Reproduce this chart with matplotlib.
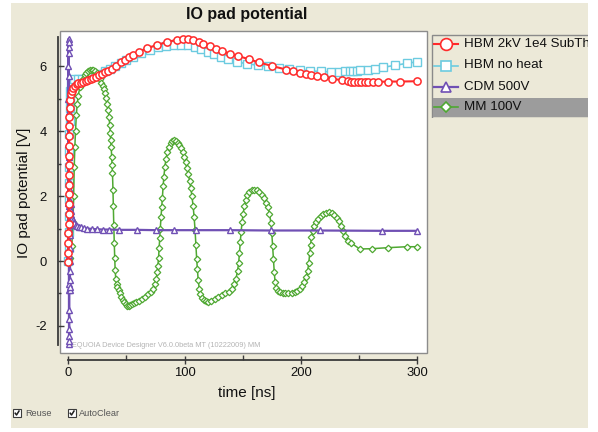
import matplotlib
matplotlib.use('Agg')
import matplotlib.pyplot as plt
from matplotlib.patches import Rectangle

plt.rcParams['font.family'] = ['Liberation Sans', 'DejaVu Sans']
plt.rcParams['axes.unicode_minus'] = False

# ---------------- data ----------------
title = "IO pad potential"
x_label = "time [ns]"
y_label = "IO pad potential [V]"
series_labels = ["HBM 2kV 1e4 SubTh", "HBM no heat", "CDM 500V", "MM 100V"]
x_ticks = [0, 100, 200, 300]
x_minor = [50, 150, 250]
y_ticks = [-2, 0, 2, 4, 6]
y_minor = [-1, 1, 3, 5]
watermark = "SEQUOIA Device Designer V6.0.0beta MT (10222009) MM"

hbm_t = [0, 0.05, 0.1, 0.15, 0.2, 0.25, 0.3, 0.35, 0.4, 0.45, 0.5, 0.55, 0.6, 0.7, 0.8, 0.9,
         1.1, 1.4, 2.0, 2.9, 4.2, 5.8, 7.2, 8.6, 10.5, 13, 15, 17, 19.3, 21.5, 24, 26, 29,
         31.8, 34.5, 37.5, 41, 45, 48.5, 52, 56, 60.7, 68, 76.5, 85, 93.7, 98.5, 103, 107.5,
         112, 116, 121.7, 127, 132, 139, 146, 155, 164, 175, 187.4, 193.5, 199.2, 204, 209,
         214, 220, 227, 235, 240.7, 243.5, 246, 249, 252, 255, 258, 262, 266, 275, 285, 300]
hbm_v = [-0.02, 0.25, 0.55, 0.85, 1.15, 1.45, 1.75, 2.05, 2.35, 2.65, 2.95, 3.25, 3.55, 3.85,
         4.15, 4.45, 4.7, 4.95, 5.15, 5.25, 5.33, 5.4, 5.45, 5.47, 5.5, 5.52, 5.55, 5.57, 5.6,
         5.63, 5.68, 5.72, 5.77, 5.82, 5.87, 5.93, 6.02, 6.12, 6.2, 6.28, 6.36, 6.45, 6.56,
         6.66, 6.75, 6.82, 6.85, 6.85, 6.82, 6.76, 6.7, 6.62, 6.54, 6.47, 6.39, 6.32, 6.22,
         6.12, 6.01, 5.9, 5.84, 5.78, 5.75, 5.72, 5.7, 5.67, 5.62, 5.57, 5.54, 5.53, 5.52,
         5.52, 5.52, 5.52, 5.52, 5.52, 5.52, 5.53, 5.53, 5.54]

noheat_t = [0, 0.2, 0.35, 0.5, 0.6, 0.7, 0.8, 0.9, 1.0, 1.1, 1.3, 1.5, 1.8, 2.3, 3.2, 5, 8,
            11.5, 15, 19, 23, 27, 31.5, 36, 40.5, 45, 50, 56, 62.5, 70, 77, 84, 91, 97, 103,
            109, 114, 120, 125.5, 131, 137, 145, 154, 163, 172, 181, 190, 199, 208, 217, 226,
            233, 238, 242, 245, 248, 251, 258, 264, 271, 281, 291, 300]
noheat_v = [0, 0.4, 0.9, 1.4, 1.9, 2.4, 2.9, 3.4, 3.9, 4.3, 4.7, 5.0, 5.25, 5.45, 5.55, 5.6,
            5.6, 5.62, 5.64, 5.66, 5.7, 5.76, 5.84, 5.93, 6.02, 6.1, 6.2, 6.3, 6.4, 6.5, 6.58,
            6.63, 6.66, 6.67, 6.65, 6.6, 6.53, 6.45, 6.38, 6.3, 6.22, 6.13, 6.08, 6.03, 6.0,
            5.96, 5.93, 5.89, 5.86, 5.84, 5.83, 5.83, 5.84, 5.85, 5.86, 5.87, 5.88, 5.9, 5.93,
            5.97, 6.03, 6.09, 6.14]

cdm_t = [0, 0.04, 0.08, 0.12, 0.16, 0.2, 0.24, 0.28, 0.32, 0.36, 0.4, 0.44, 0.48, 0.52, 0.56,
         0.6, 0.64, 0.68, 0.72, 0.76, 0.8, 0.84, 0.88, 0.92, 0.96, 1.0, 1.05, 1.1, 1.15, 1.2,
         1.25, 1.3, 1.35, 1.4, 1.45, 1.5, 1.6, 1.7, 1.8, 2.0, 2.3, 2.7, 3.2, 3.8, 4.5, 5.3,
         6.3, 7.5, 9, 11, 13.5, 16.5, 20, 24.5, 29.5, 35, 44, 59, 75, 91, 110, 139, 174, 216,
         270, 300]
cdm_v = [0, 1.8, 3.6, 5.0, 6.0, 6.6, 6.85, 6.75, 6.4, 5.7, 4.6, 3.2, 1.8, 0.4, -0.9, -1.8,
         -2.3, -2.55, -2.45, -2.1, -1.5, -0.7, 0.2, 1.0, 1.7, 2.2, 2.4, 2.2, 1.6, 0.8, 0.0,
         -0.6, -0.9, -0.8, -0.3, 0.4, 1.1, 1.6, 1.85, 1.75, 1.55, 1.42, 1.33, 1.26, 1.2, 1.16,
         1.12, 1.09, 1.06, 1.04, 1.02, 1.0, 0.99, 0.98, 0.97, 0.97, 0.96, 0.96, 0.95, 0.95,
         0.95, 0.95, 0.94, 0.94, 0.93, 0.93]

mm_t = [0, 1.5, 3, 4, 4.6, 5.1, 5.6, 6.2, 6.9, 7.7, 8.5, 10, 11.5, 12.8, 14.2, 15.5, 17, 18.5,
        20, 21.5, 23, 24.5, 26, 27.2, 28.5, 29.5, 30.5, 31.5, 32.5, 33.5, 34.3, 35, 35.6, 36.1,
        36.5, 36.9, 37.3, 37.7, 38, 38.4, 38.7, 39.1, 39.5, 39.9, 40.3, 40.8, 41.5, 42.3, 43.2,
        44.3, 45.5, 46.8, 48, 49.3, 50.5, 51.8, 53.2, 54.8, 56.5, 58.5, 61, 63.5, 66, 68.5,
        71, 73, 74.5, 75.6, 76.4, 77, 77.6, 78.1, 78.6, 79.1, 79.7, 80.3, 80.9, 81.5, 82.2,
        83, 84, 85.2, 86.5, 88, 89.5, 91, 92.5, 94, 95.5, 97, 98.3, 99.6, 100.8, 102, 103.2,
        104.3, 105.3, 106.3, 107.3, 108.2, 109, 109.7, 110.4, 111, 111.7, 112.6, 113.6, 115,
        116.6, 118.5, 120.5, 123, 126, 129, 132, 135, 138, 140.5, 142.5, 144.2, 145.5, 146.5,
        147.2, 147.9, 148.6, 149.4, 150.3, 151.3, 152.5, 154, 155.8, 157.8, 160, 162.2, 164.3,
        166.3, 168.2, 170, 171.6, 173, 174.2, 175, 175.7, 176.4, 177.1, 177.8, 178.8, 180.2,
        182, 184.2, 186.7, 189.3, 192, 194.6, 197, 199.2, 201.2, 203, 204.6, 205.8, 206.8,
        207.6, 208.3, 209.1, 210.2, 211.6, 213.2, 215, 217, 219.2, 221.6, 224, 226.4, 228.7,
        230.8, 232.7, 234.5, 236.3, 238.2, 240.5, 243.5, 250.5, 261.5, 274.5, 291, 300]
mm_v = [0, 0.1, 0.45, 1.2, 2.0, 2.9, 3.5, 4.0, 4.5, 4.85, 5.1, 5.35, 5.52, 5.62, 5.72, 5.8,
        5.86, 5.9, 5.9, 5.88, 5.85, 5.78, 5.69, 5.6, 5.5, 5.4, 5.3, 5.17, 5.02, 4.85, 4.65,
        4.45, 4.2, 3.95, 3.72, 3.5, 3.22, 2.95, 2.7, 2.2, 1.7, 1.1, 0.55, 0.1, -0.28, -0.55,
        -0.7, -0.8, -0.9, -1.0, -1.1, -1.2, -1.27, -1.33, -1.38, -1.4, -1.37, -1.33, -1.3,
        -1.27, -1.22, -1.17, -1.1, -1.03, -0.95, -0.85, -0.72, -0.55, -0.35, -0.15, 0.1, 0.4,
        0.7, 1.0, 1.35, 1.65, 1.95, 2.3, 2.6, 2.9, 3.15, 3.35, 3.52, 3.63, 3.7, 3.72, 3.7,
        3.65, 3.58, 3.48, 3.35, 3.2, 3.05, 2.88, 2.68, 2.47, 2.25, 2.0, 1.7, 1.35, 0.95, 0.5,
        0.05, -0.25, -0.6, -0.85, -1.02, -1.13, -1.2, -1.24, -1.25, -1.22, -1.18, -1.12,
        -1.06, -1.0, -0.94, -0.85, -0.72, -0.55, -0.3, -0.05, 0.25, 0.6, 0.9, 1.2, 1.45,
        1.68, 1.87, 2.02, 2.12, 2.18, 2.2, 2.18, 2.12, 2.04, 1.93, 1.8, 1.65, 1.45, 1.18,
        0.85, 0.45, 0.05, -0.35, -0.65, -0.82, -0.92, -0.97, -0.99, -1.0, -1.0, -0.99, -0.97,
        -0.92, -0.86, -0.78, -0.66, -0.5, -0.3, -0.05, 0.25, 0.5, 0.75, 0.93, 1.08, 1.2, 1.3,
        1.38, 1.44, 1.48, 1.5, 1.48, 1.42, 1.33, 1.22, 1.08, 0.92, 0.77, 0.62, 0.55, 0.37,
        0.38, 0.41, 0.44, 0.44]

# ---------------- styles ----------------
RED = '#FF2A2A'
BLUE = '#6CCBE0'
PURPLE = '#7050B4'
GREEN = '#4FA832'
BEIGE = '#ECE9D8'

W, H = 598, 432
fig = plt.figure(figsize=(W / 100, H / 100), dpi=100, facecolor='white')


def fx(px):
    return px / W


def fy(py):
    return 1 - py / H


# background panel + checkboxes
bg = fig.add_axes([0, 0, 1, 1], zorder=-10)
bg.set_xlim(0, W)
bg.set_ylim(H, 0)
bg.axis('off')
bg.add_patch(Rectangle((11, 3), 577, 425, facecolor=BEIGE, edgecolor='none'))
for bx, txt, tx in [(13, 'Reuse', 25), (68, 'AutoClear', 79)]:
    bg.add_patch(Rectangle((bx, 409), 8, 8, facecolor='white', edgecolor='#3C3C3C', lw=0.8))
    bg.plot([bx + 1.8, bx + 3.5, bx + 6.4], [412.6, 415.0, 410.4], color='#202020', lw=1.1,
            solid_capstyle='butt')
    bg.text(tx, 413.2, txt, fontsize=6.6, color='#555555', va='center', ha='left')

# main axes (white plot area)
ax = fig.add_axes([fx(60), fy(353), (427 - 60) / W, (353 - 31) / H])
ax.set_facecolor('white')
ax.patch.set_edgecolor('#8C8C8C')
ax.patch.set_linewidth(1.0)
ax.set_xlim((60 - 68.3) / 1.163, (427 - 68.3) / 1.163)
ax.set_ylim((261 - 353) / 32.45, (261 - 31) / 32.45)

for s in ['top', 'right']:
    ax.spines[s].set_visible(False)
ax.spines['left'].set_position(('outward', 1.5))
ax.spines['left'].set_bounds(-2.6, 6.9)
ax.spines['bottom'].set_position(('outward', 4.7))
ax.spines['bottom'].set_bounds(0, 300)
for s in ['left', 'bottom']:
    ax.spines[s].set_color('#3A3A3A')
    ax.spines[s].set_linewidth(1.3)

ax.set_xticks(x_ticks)
ax.set_xticks(x_minor, minor=True)
ax.set_yticks(y_ticks)
ax.set_yticks(y_minor, minor=True)
ax.set_xticklabels([str(v) for v in x_ticks])
ax.set_yticklabels([str(v) for v in y_ticks])
ax.tick_params(axis='x', which='major', direction='inout', length=6, width=1.0, pad=2.5,
               labelsize=9.4, color='#3A3A3A', labelcolor='#111111')
ax.tick_params(axis='x', which='minor', direction='in', length=3.5, width=1.0, color='#3A3A3A')
ax.tick_params(axis='y', which='major', direction='in', length=4, width=1.0, pad=8,
               labelsize=9.4, color='#3A3A3A', labelcolor='#111111')
ax.tick_params(axis='y', which='minor', direction='in', length=2.5, width=1.0, color='#3A3A3A')

ax.text((66.7 - 60) / 367, (353 - 345.7) / 322, watermark, transform=ax.transAxes,
        fontsize=5.3, color='#B4B4B4', ha='left', va='center', zorder=1)

ax.plot(noheat_t, noheat_v, color=BLUE, lw=1.2, marker='s', ms=5.6, mfc='white', mec=BLUE,
        mew=1.0, zorder=2)
ax.plot(mm_t, mm_v, color=GREEN, lw=1.1, marker='D', ms=3.3, mfc='white', mec=GREEN,
        mew=0.9, zorder=3)
ax.plot(cdm_t, cdm_v, color=PURPLE, lw=1.6, marker='^', ms=4.8, mfc='white', mec=PURPLE,
        mew=1.0, zorder=4, clip_on=False)
ax.plot(hbm_t, hbm_v, color=RED, lw=1.5, marker='o', ms=5.2, mfc='white', mec=RED,
        mew=1.1, zorder=5)

# titles / labels
fig.text(fx(247), fy(15), title, fontsize=11.5, fontweight='bold', ha='center', va='center',
         color='#111111')
fig.text(fx(247), fy(393), x_label, fontsize=11, ha='center', va='center', color='#111111')
fig.text(fx(24), fy(192.5), y_label, fontsize=11, ha='center', va='center', rotation=90,
         color='#111111')

# legend panel
lg = fig.add_axes([fx(431), fy(118), (588 - 431) / W, (118 - 34) / H], zorder=5)
lg.set_xlim(431, 588)
lg.set_ylim(118, 34)
lg.axis('off')
lg.add_patch(Rectangle((431.5, 34.5), 170, 83, facecolor=BEIGE, edgecolor='#8A8A8A', lw=1.0))
lg.add_patch(Rectangle((432.5, 97.5), 170, 19.5, facecolor='#9C9C9C', edgecolor='none'))
styles = [(RED, 'o', 8.5, 1.5), (BLUE, 's', 7.5, 1.2), (PURPLE, '^', 7, 1.6), (GREEN, 'D', 5, 1.2)]
rows = [44, 65.5, 86.5, 107]
for (col, mk, ms, lw), yy, lab in zip(styles, rows, series_labels):
    lg.plot([434, 458], [yy, yy], color=col, lw=lw)
    lg.plot([446], [yy], marker=mk, ms=ms, mfc='white', mec=col, mew=1.2, color=col)
    t = lg.text(464, yy, lab, fontsize=9.6, ha='left', va='center', color='#111111')
    t.set_clip_on(True)

fig.savefig('out.png', dpi=100, facecolor='white')
